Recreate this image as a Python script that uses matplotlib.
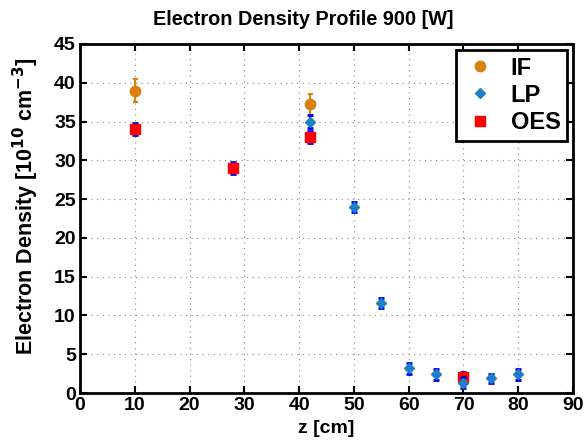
import matplotlib
matplotlib.use("Agg")
import matplotlib.pyplot as plt

if_z = [10, 42]
if_n = [39.0, 37.2]
if_err = [1.45, 1.35]

lp_z = [42, 50, 55, 60, 65, 70, 75, 80]
lp_n = [35, 24, 11.6, 3.2, 2.4, 1.3, 1.9, 2.4]
lp_err = [0.8, 0.6, 0.7, 0.7, 0.7, 0.7, 0.6, 0.7]

oes_z = [10, 28, 42, 70]
oes_n = [34.0, 29.0, 33.0, 2.0]
oes_err = [0.75, 0.75, 0.75, 0.75]

plt.rcParams['font.family'] = ['Liberation Sans', 'DejaVu Sans']
plt.rcParams['font.weight'] = 'bold'
plt.rcParams['mathtext.default'] = 'bf'

fig = plt.figure(figsize=(5.86, 4.44), dpi=100)
ax = fig.add_axes([80/586, 51/444, 493/586, 349/444])

ax.errorbar(if_z, if_n, yerr=if_err, fmt='o', color='#D9800F', ms=7.5, elinewidth=1.5,
            capsize=1.8, capthick=1.5, label='IF', zorder=3)
ax.errorbar(lp_z, lp_n, yerr=lp_err, fmt='D', color='#1f7fc4', mec='#1f7fc4', ms=5.5,
            ecolor='#0000ee', elinewidth=1.5, capsize=2.5, capthick=2, label='LP', zorder=4)
ax.errorbar(oes_z, oes_n, yerr=oes_err, fmt='s', color='#ff0000', ms=6.5,
            ecolor='#0000ee', elinewidth=1.5, capsize=2.5, capthick=2, label='OES', zorder=3)

ax.set_xlim(0, 90)
ax.set_ylim(0, 45)
ax.set_xticks(range(0, 91, 10))
ax.set_yticks(range(0, 46, 5))
ax.grid(True, linestyle=(0, (1, 4)), color='#888888', linewidth=0.8)
ax.tick_params(direction='in', top=True, right=True, labelsize=14, length=5, width=1.5, pad=3)
for lab in ax.get_xticklabels() + ax.get_yticklabels():
    lab.set_fontweight('bold')
for s in ax.spines.values():
    s.set_linewidth(2)

ax.set_title('Electron Density Profile 900 [W]', fontsize=14.3, fontweight='bold', pad=14,
             x=0.452)
ax.set_xlabel('z [cm]', fontsize=14, fontweight='bold', labelpad=4)
ax.set_ylabel('Electron Density [10$^{10}$ cm$^{-3}$]', fontsize=15.5, fontweight='bold')
ax.yaxis.set_label_coords(-0.08, 0.535)

handles, labels = ax.get_legend_handles_labels()
handles = [h[0] for h in handles]
leg = ax.legend(handles, labels, loc='upper right', prop={'weight': 'bold', 'size': 17},
                fancybox=False, edgecolor='black', framealpha=1, handletextpad=0.55,
                handlelength=1.5, borderaxespad=0.25, labelspacing=0.18, borderpad=0.28)
leg.get_frame().set_linewidth(2)

fig.savefig('out.png', dpi=100)
